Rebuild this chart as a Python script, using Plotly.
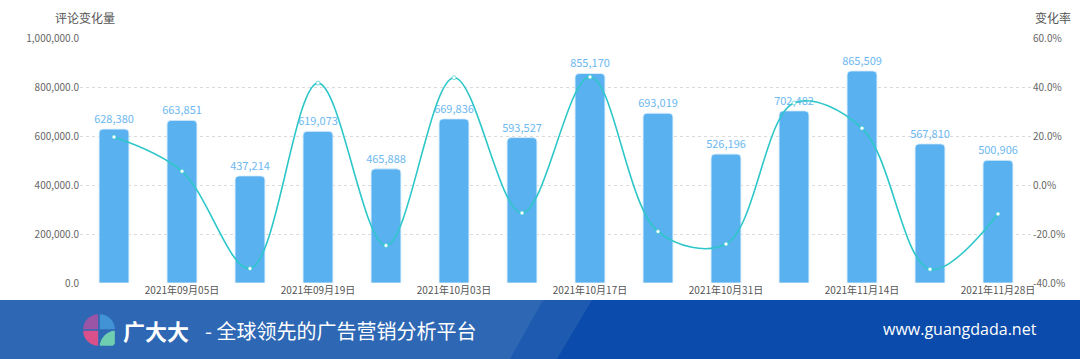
import plotly.graph_objects as go

# ---- data ----
dates = ["2021-08-29", "2021-09-05", "2021-09-12", "2021-09-19", "2021-09-26",
         "2021-10-03", "2021-10-10", "2021-10-17", "2021-10-24", "2021-10-31",
         "2021-11-07", "2021-11-14", "2021-11-21", "2021-11-28"]
comment_change = [628380, 663851, 437214, 619073, 465888, 669836, 593527,
                  855170, 693019, 526196, 702482, 865509, 567810, 500906]
change_rate = [19.6, 5.6, -34.1, 41.6, -24.7, 43.8, -11.4,
               44.1, -19.0, -24.1, 33.5, 23.2, -34.4, -11.8]
tick_dates = ["2021-09-05", "2021-09-19", "2021-10-03", "2021-10-17",
              "2021-10-31", "2021-11-14", "2021-11-28"]
tick_labels = ["2021年09月05日", "2021年09月19日", "2021年10月03日", "2021年10月17日",
               "2021年10月31日", "2021年11月14日", "2021年11月28日"]
left_ticks = [0, 200000, 400000, 600000, 800000, 1000000]
right_ticks = [-40, -20, 0, 20, 40, 60]
right_tick_labels = ["-40.0%", "-20.0%", "0.0%", "20.0%", "40.0%", "60.0%"]

W, H = 1080, 359
ML, MR, MT, MB = 80, 48, 38, 76
PW, PH = W - ML - MR, H - MT - MB

def px(x):
    return (x - ML) / PW

def py(y):
    return (H - MB - y) / PH

FONT = "Noto Sans CJK SC, Noto Sans, sans-serif"
BAR = "#5AB1EF"
LINE = "#2EC7C9"

fig = go.Figure()
fig.add_trace(go.Bar(
    x=dates, y=comment_change, name="评论变化量",
    marker=dict(color=BAR, cornerradius=4,
                line=dict(color="rgba(220,238,252,0.9)", width=1)),
    text=comment_change, texttemplate="%{y:,}", textposition="outside",
    textfont=dict(color="#6DB8F0", size=11, family=FONT),
    constraintext="none", cliponaxis=False,
))
fig.add_trace(go.Scatter(
    x=dates, y=change_rate, name="变化率", yaxis="y2", mode="lines+markers",
    line=dict(color=LINE, width=1.6, shape="spline", smoothing=1.0),
    marker=dict(color="white", size=4, line=dict(color=LINE, width=0.6)),
    cliponaxis=False,
))

shapes = []
# banner
shapes.append(dict(type="rect", xref="paper", yref="paper",
                   x0=px(0), x1=px(W), y0=py(H), y1=py(300),
                   fillcolor="#0A4BAB", line=dict(width=0), layer="above"))
shapes.append(dict(type="path", xref="paper", yref="paper",
                   path=f"M {px(0)},{py(300)} L {px(592)},{py(300)} L {px(557)},{py(H)} L {px(0)},{py(H)} Z",
                   fillcolor="#1E5AAF", line=dict(width=0), layer="above"))
shapes.append(dict(type="path", xref="paper", yref="paper",
                   path=f"M {px(0)},{py(300)} L {px(543)},{py(300)} L {px(510)},{py(H)} L {px(0)},{py(H)} Z",
                   fillcolor="#2E67B4", line=dict(width=0), layer="above"))

# logo (four quadrants)
cx, cy, r, g = 99, 330, 15, 0.8
k = 0.5523

def quarter(sx, sy, color):
    ox, oy = cx + sx * g, cy + sy * g
    ax, ay = ox + sx * r, oy
    bx, by = ox, oy + sy * r
    c1x, c1y = ax, oy + sy * r * k
    c2x, c2y = ox + sx * r * k, by
    path = (f"M {px(ox)},{py(oy)} L {px(ax)},{py(ay)} "
            f"C {px(c1x)},{py(c1y)} {px(c2x)},{py(c2y)} {px(bx)},{py(by)} Z")
    return dict(type="path", xref="paper", yref="paper", path=path,
                fillcolor=color, line=dict(width=0), layer="above")

shapes.append(quarter(-1, -1, "#9A55A6"))
shapes.append(quarter(1, -1, "#4193D6"))
shapes.append(quarter(-1, 1, "#D9508A"))
shapes.append(dict(type="path", xref="paper", yref="paper",
                   path=(f"M {px(cx+g)},{py(cy+g+r)} L {px(cx+g+r-2)},{py(cy+g+r)} "
                         f"L {px(cx+g+r)},{py(cy+g+r-2)} L {px(cx+g+r)},{py(cy+g)} "
                         f"C {px(cx+g+r*0.45)},{py(cy+g)} {px(cx+g)},{py(cy+g+r*0.55)} {px(cx+g)},{py(cy+g+r)} Z"),
                   fillcolor="#6FCDB0", line=dict(width=0), layer="above"))

annotations = [
    dict(text="评论变化量", xref="paper", yref="paper", x=px(85), y=py(18),
         xanchor="center", yanchor="middle", showarrow=False,
         font=dict(size=12, color="#555", family=FONT)),
    dict(text="变化率", xref="paper", yref="paper", x=px(1053), y=py(18),
         xanchor="center", yanchor="middle", showarrow=False,
         font=dict(size=12, color="#555", family=FONT)),
    dict(text="<b>广大大</b>", xref="paper", yref="paper", x=px(121), y=py(330),
         xanchor="left", yanchor="middle", showarrow=False,
         font=dict(size=22, color="white", family=FONT)),
    dict(text="- 全球领先的广告营销分析平台", xref="paper", yref="paper", x=px(203), y=py(330),
         xanchor="left", yanchor="middle", showarrow=False,
         font=dict(size=20, color="white", family=FONT)),
    dict(text="www.guangdada.net", xref="paper", yref="paper", x=px(960), y=py(329),
         xanchor="center", yanchor="middle", showarrow=False,
         font=dict(size=16, color="white", family="Open Sans, Noto Sans, sans-serif")),
]

fig.update_layout(
    width=W, height=H,
    margin=dict(l=ML, r=MR, t=MT, b=MB, pad=0),
    paper_bgcolor="white", plot_bgcolor="white",
    showlegend=False, bargap=0.56,
    font=dict(family=FONT, size=10, color="#666"),
    xaxis=dict(type="category", categoryorder="array", categoryarray=dates,
               tickmode="array", tickvals=tick_dates, ticktext=tick_labels,
               showgrid=False, showline=False, zeroline=False, ticks="",
               tickfont=dict(size=10, color="#555"), range=[-0.5, len(dates) - 0.5]),
    yaxis=dict(range=[0, 1000000], tickmode="array", tickvals=left_ticks,
               tickformat=",.1f", showgrid=True, gridcolor="#DADADA", griddash="dot",
               gridwidth=1, zeroline=False, showline=False, ticks="",
               tickfont=dict(size=10, color="#666")),
    yaxis2=dict(range=[-40, 60], overlaying="y", side="right", tickmode="array",
                tickvals=right_ticks, ticktext=right_tick_labels,
                showgrid=False, zeroline=False, showline=False, ticks="",
                tickfont=dict(size=10, color="#666")),
    shapes=shapes, annotations=annotations,
)

fig.write_html("out.html", config={"displayModeBar": False},
               post_script="document.body.style.margin='0';document.body.style.overflow='hidden';")
